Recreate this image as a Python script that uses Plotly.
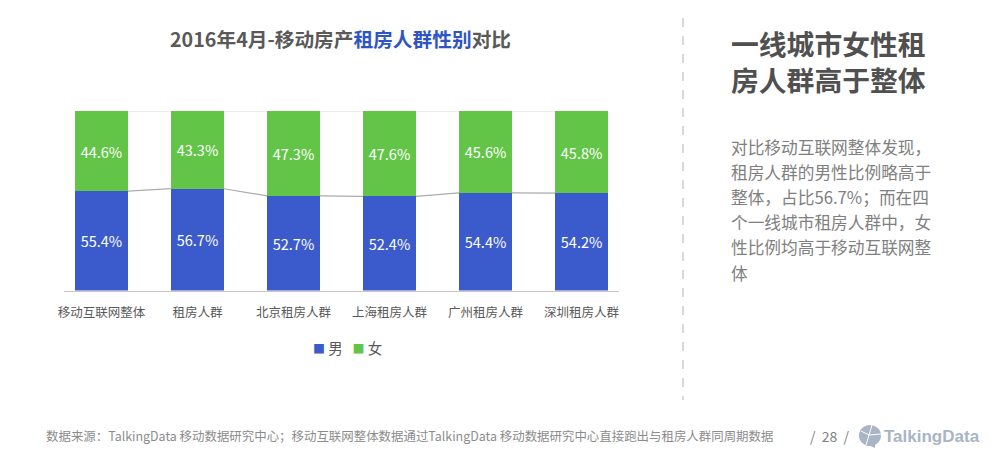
import plotly.graph_objects as go

categories = ['移动互联网整体', '租房人群', '北京租房人群', '上海租房人群', '广州租房人群', '深圳租房人群']
male = [55.4, 56.7, 52.7, 52.4, 54.4, 54.2]
female = [44.6, 43.3, 47.3, 47.6, 45.6, 45.8]
top = [100, 100, 100, 100, 100, 100]

BLUE = '#3B5BCC'
GREEN = '#63C548'
LOGO = '#A9B4C6'
FONT = 'Noto Sans CJK SC'
W, H = 1000, 463
BAR_W = 0.552

xs = list(range(len(categories)))


def connector(vals):
    # joins neighbouring bars at their stack height
    cx, cy = [], []
    for i in range(len(vals) - 1):
        cx += [i + BAR_W / 2, i + 1 - BAR_W / 2, None]
        cy += [vals[i], vals[i + 1], None]
    return cx, cy


fig = go.Figure()
fig.add_trace(go.Bar(x=xs, y=male, name='男', width=BAR_W, marker=dict(color=BLUE, line=dict(width=0)),
                     text=[f'{v}%' for v in male], textposition='inside', insidetextanchor='middle',
                     textangle=0, textfont=dict(color='white', size=14.5, family=FONT)))
fig.add_trace(go.Bar(x=xs, y=female, name='女', width=BAR_W, marker=dict(color=GREEN, line=dict(width=0)),
                     text=[f'{v}%' for v in female], textposition='inside', insidetextanchor='middle',
                     textangle=0, textfont=dict(color='white', size=14.5, family=FONT)))

for vals, col in [(male, '#ABABAB'), (top, '#D9D9D9')]:
    lx, ly = connector(vals)
    fig.add_trace(go.Scatter(x=lx, y=ly, mode='lines', line=dict(color=col, width=1.2),
                             showlegend=False, hoverinfo='skip'))

fig.update_layout(
    width=W, height=H, barmode='stack', paper_bgcolor='white', plot_bgcolor='white', showlegend=False,
    margin=dict(l=0, r=0, t=0, b=0), font=dict(family=FONT, color='#595959'),
    xaxis=dict(domain=[64 / W, 619 / W], range=[-0.39, 5.39], tickmode='array', tickvals=xs,
               ticktext=categories, tickfont=dict(size=12.5, color='#595959'), showgrid=False,
               zeroline=False, showline=True, linecolor='#C8C8C8', linewidth=1, ticks='',
               ticklabelstandoff=10, automargin=False),
    yaxis=dict(domain=[1 - 290.5 / H, 1 - 111 / H], range=[0, 100], visible=False, automargin=False),
)


def note(x, y, text, size, color='#595959', anchor='left', family=FONT):
    fig.add_annotation(xref='paper', yref='paper', x=x / W, y=1 - y / H, text=text, showarrow=False,
                       xanchor=anchor, yanchor='middle', align='left', xshift=-2 if anchor == 'left' else 0,
                       font=dict(size=size, color=color, family=family))


note(340, 38, '<b>2016年4月-移动房产<span style="color:#2F55C4">租房人群性别</span>对比</b>', 19.7, '#595959', 'center')
note(731, 61, '<b>一线城市女性租<br>房人群高于整体</b>', 27.8, '#505050')

body_lines = ['对比移动互联网整体发现，', '租房人群的男性比例略高于', '整体，占比56.7%；而在四',
              '个一线城市租房人群中，女', '性比例均高于移动互联网整', '体']
for i, line in enumerate(body_lines):
    note(731, 147 + i * 25.1, line, 16.7, '#808080')

# legend written out so the swatches sit as tight as in the original
note(313, 347.5, f'<span style="color:{BLUE};font-size:12px">■</span> {fig.data[0].name}   '
     f'<span style="color:{GREEN};font-size:12px">■</span> {fig.data[1].name}', 14.5, '#595959')

note(46, 436, '数据来源：TalkingData 移动数据研究中心；移动互联网整体数据通过TalkingData 移动数据研究中心直接跑出与租房人群同周期数据',
     12.45, '#8C8C8C')
note(810, 436, '/  28  /', 14, '#7F7F7F')
note(884, 436, '<b>TalkingData</b>', 17, LOGO, family='Liberation Sans')

# divider
fig.add_shape(type='line', xref='paper', yref='paper', x0=683 / W, x1=683 / W, y0=1 - 18 / H, y1=1 - 400 / H,
              line=dict(color='#BFBFBF', width=1.2, dash='dash'))
# logo badge
fig.add_shape(type='circle', xref='paper', yref='paper', x0=859 / W, x1=881 / W, y0=1 - 446 / H, y1=1 - 425 / H,
              fillcolor=LOGO, line=dict(width=0))
fig.add_shape(type='path', xref='paper', yref='paper',
              path=f'M {866 / W} {1 - 444 / H} L {875 / W} {1 - 448 / H} L {875 / W} {1 - 443 / H} Z',
              fillcolor=LOGO, line=dict(width=0))
for x1, y1 in [(861, 431), (872, 425), (881, 434), (866, 445)]:
    fig.add_shape(type='line', xref='paper', yref='paper', x0=869 / W, y0=1 - 435 / H, x1=x1 / W, y1=1 - y1 / H,
                  line=dict(color='white', width=1))

fig.write_html('out.html', config=dict(displayModeBar=False), post_script="document.body.style.margin='0';")
